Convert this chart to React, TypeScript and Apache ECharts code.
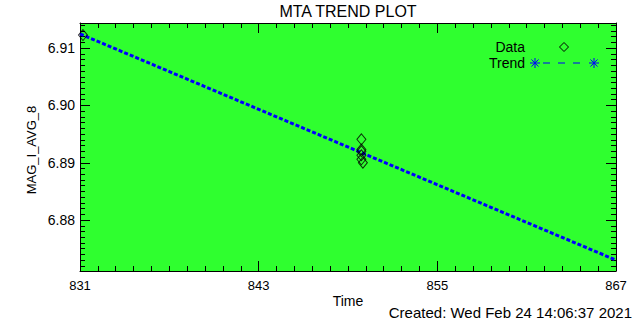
import React, { useEffect, useRef } from "react";
import * as echarts from "echarts";

const titleText = "MTA TREND PLOT";
const yAxisTitle = "MAG_I_AVG_8";
const xAxisTitle = "Time";
const createdText = "Created: Wed Feb 24 14:06:37 2021";

const xMin = 831;
const xMax = 867;
const xInterval = 12;
const yMin = 6.8711;
const yMax = 6.9144;

// Data points: [time, value]
const dataTimes = [831.2, 849.9, 849.9, 849.9, 849.9, 849.9, 850.0];
const dataValues = [6.9123, 6.8941, 6.8923, 6.892, 6.8913, 6.8906, 6.89];

// Trend line endpoints
const trendTimes = [831, 867];
const trendValues = [6.9125, 6.873];

const FONT = "Liberation Sans";

function asterisk(cx: number, cy: number, r: number, color: string) {
  const lines = [];
  for (let k = 0; k < 4; k++) {
    const a = (k * Math.PI) / 4;
    const dx = Math.cos(a) * r;
    const dy = Math.sin(a) * r;
    lines.push({
      type: "line",
      shape: { x1: cx - dx, y1: cy - dy, x2: cx + dx, y2: cy + dy },
      style: { stroke: color, lineWidth: 1 },
    });
  }
  return lines;
}

export default function App() {
  const ref = useRef<HTMLDivElement>(null);

  useEffect(() => {
    document.body.style.margin = "0";
    if (!ref.current) return;
    const chart = echarts.init(ref.current, null, { renderer: "svg" });

    const dataSeries = dataTimes.map((t, i) => [t, dataValues[i]]);
    const trendSeries = trendTimes.map((t, i) => [t, trendValues[i]]);

    const axisCommon = {
      type: "value" as const,
      axisLine: { show: true, lineStyle: { color: "#000", width: 1 } },
      axisTick: { show: true, inside: true, length: 10, lineStyle: { color: "#000" } },
      minorTick: { show: true, splitNumber: 10, length: 5, lineStyle: { color: "#000" } },
      splitLine: { show: false },
    };

    chart.setOption({
      animation: false,
      backgroundColor: "#ffffff",
      grid: {
        left: 80,
        right: 24,
        top: 23,
        bottom: 49,
        show: true,
        backgroundColor: "#2fff2f",
        borderWidth: 0,
      },
      xAxis: [
        {
          ...axisCommon,
          position: "bottom",
          min: xMin,
          max: xMax,
          interval: xInterval,
          axisLabel: { color: "#000", fontSize: 13, fontFamily: FONT, margin: 8 },
        },
        {
          ...axisCommon,
          position: "top",
          min: xMin,
          max: xMax,
          interval: xInterval,
          axisLabel: { show: false },
        },
      ],
      yAxis: [
        {
          ...axisCommon,
          position: "left",
          min: yMin,
          max: yMax,
          splitNumber: 5,
          axisLabel: {
            color: "#000",
            fontSize: 14,
            fontFamily: FONT,
            margin: 5,
            showMinLabel: false,
            showMaxLabel: false,
            formatter: (v: number) => v.toFixed(2),
          },
        },
        {
          ...axisCommon,
          position: "right",
          min: yMin,
          max: yMax,
          splitNumber: 5,
          axisLabel: { show: false },
        },
      ],
      series: [
        {
          type: "line",
          name: "Trend",
          data: trendSeries,
          showSymbol: false,
          symbol: "none",
          lineStyle: { color: "#0000ff", width: 3, type: [4, 2] },
          z: 2,
        },
        {
          type: "scatter",
          name: "Data",
          data: dataSeries,
          symbol: "diamond",
          symbolSize: [9, 11],
          itemStyle: { color: "rgba(0,0,0,0)", borderColor: "#000", borderWidth: 1 },
          z: 3,
        },
      ],
      graphic: [
        {
          type: "text",
          x: 348,
          y: 11,
          style: {
            text: titleText,
            fontSize: 16,
            fontFamily: FONT,
            fill: "#000",
            textAlign: "center",
            textVerticalAlign: "middle",
          },
        },
        {
          type: "text",
          x: 31,
          y: 150,
          rotation: Math.PI / 2,
          style: {
            text: yAxisTitle,
            fontSize: 13,
            fontFamily: FONT,
            fill: "#000",
            textAlign: "center",
            textVerticalAlign: "middle",
          },
        },
        {
          type: "text",
          x: 348,
          y: 301,
          style: {
            text: xAxisTitle,
            fontSize: 14,
            fontFamily: FONT,
            fill: "#000",
            textAlign: "center",
            textVerticalAlign: "middle",
          },
        },
        {
          type: "text",
          x: 632,
          y: 312,
          style: {
            text: createdText,
            fontSize: 15,
            fontFamily: FONT,
            fill: "#000",
            textAlign: "right",
            textVerticalAlign: "middle",
          },
        },
        {
          type: "text",
          x: 525,
          y: 47,
          style: {
            text: "Data",
            fontSize: 14,
            fontFamily: FONT,
            fill: "#000",
            textAlign: "right",
            textVerticalAlign: "middle",
          },
        },
        {
          type: "polygon",
          shape: { points: [[564, 42.5], [568.5, 47], [564, 51.5], [559.5, 47]] },
          style: { fill: "none", stroke: "#000", lineWidth: 1 },
        },
        {
          type: "text",
          x: 525,
          y: 63,
          style: {
            text: "Trend",
            fontSize: 14,
            fontFamily: FONT,
            fill: "#000",
            textAlign: "right",
            textVerticalAlign: "middle",
          },
        },
        ...asterisk(535, 63, 5, "#0000ff"),
        ...asterisk(594, 63, 5, "#0000ff"),
        {
          type: "line",
          shape: { x1: 543, y1: 63, x2: 587, y2: 63 },
          style: { stroke: "#0000ff", lineWidth: 1, lineDash: [7, 8] },
        },
      ],
    });

    return () => {
      chart.dispose();
    };
  }, []);

  return <div ref={ref} style={{ width: 640, height: 320 }} />;
}
